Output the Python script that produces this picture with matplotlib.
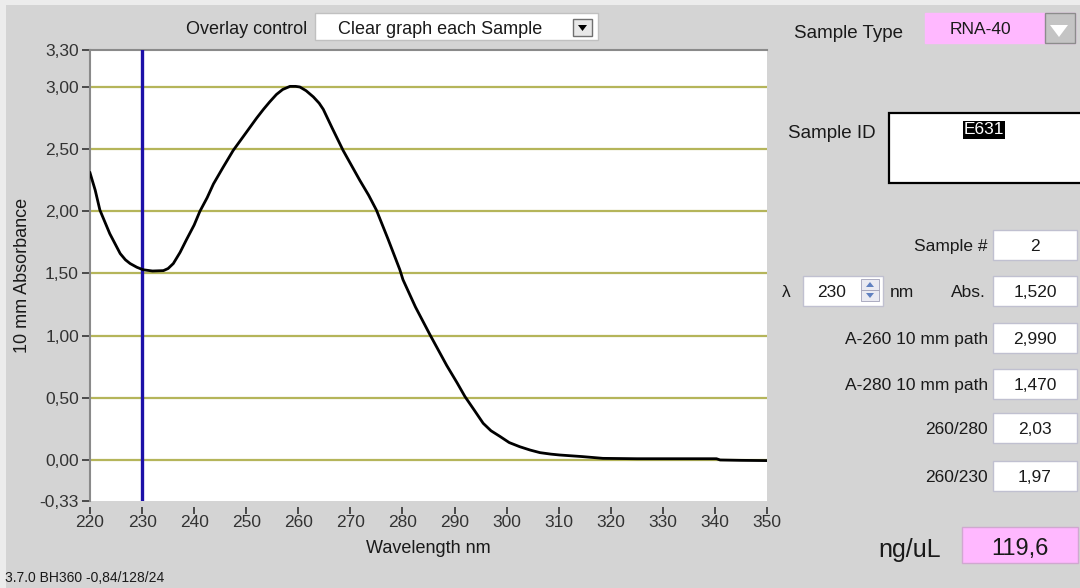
import matplotlib
matplotlib.use("Agg")
import matplotlib.pyplot as plt
from matplotlib.patches import Rectangle, Polygon

# spectrum (wavelength nm, 10 mm absorbance)
wavelength = [220, 221, 221.9, 222.8, 223.8, 224.8, 225.8, 226.8, 227.7, 229, 230.2, 232, 234.1,
              235, 236, 237.3, 238.5, 240, 241.1, 242.5, 243.7, 245.5, 247.5, 250.1, 252,
              253.3, 254.5, 255.8, 257, 258.4, 259.5, 260.3, 261.5, 262.9, 264, 264.8, 266.5,
              268.6, 270.2, 271.8, 273.5, 275, 277.2, 279.5, 280.1, 282.5, 285.3, 288.5,
              290.5, 292, 293.8, 295.5, 297, 298.7, 300.5, 302.5, 304.5, 306.4, 308.5, 310.2,
              314.6, 318.5, 325, 333, 340.3, 341, 345, 350]
absorbance = [2.31, 2.17, 2.01, 1.92, 1.82, 1.74, 1.66, 1.61, 1.58, 1.55, 1.53, 1.52, 1.523,
              1.54, 1.58, 1.67, 1.77, 1.89, 2.00, 2.11, 2.22, 2.35, 2.49, 2.64, 2.75,
              2.82, 2.88, 2.94, 2.98, 3.005, 3.005, 3.0, 2.97, 2.92, 2.87, 2.82, 2.67,
              2.49, 2.37, 2.25, 2.13, 2.01, 1.78, 1.53, 1.45, 1.23, 1.006, 0.76,
              0.62, 0.51, 0.40, 0.295, 0.235, 0.19, 0.14, 0.107, 0.08, 0.059, 0.047, 0.04,
              0.027, 0.013, 0.01, 0.01, 0.01, 0.0, -0.003, -0.005]

cursor_nm = 230
y_ticks = [-0.33, 0.0, 0.5, 1.0, 1.5, 2.0, 2.5, 3.0, 3.3]
grid_levels = [0.0, 0.5, 1.0, 1.5, 2.0, 2.5, 3.0]
x_ticks = list(range(220, 351, 10))

readout_labels = ["Sample #", "Abs.", "A-260 10 mm path", "A-280 10 mm path", "260/280", "260/230"]
readout_values = ["2", "1,520", "2,990", "1,470", "2,03", "1,97"]
readout_tops = [230, 276, 323, 369, 413, 461]

W, H = 1080, 588
BG = "#d4d4d4"
PINK = "#ffb8ff"
FONT = "Liberation Sans"
plt.rcParams["font.family"] = [FONT, "DejaVu Sans"]


def box(fig, x, y, w, h, fc="white", ec="#b8b8c8", lw=1.0):
    fig.add_artist(Rectangle((x / W, 1 - (y + h) / H), w / W, h / H,
                             transform=fig.transFigure, fc=fc, ec=ec, lw=lw))


def txt(fig, x, y, s, size=12.5, ha="left", va="center_baseline", **kw):
    fig.text(x / W, 1 - y / H, s, fontsize=size, ha=ha, va=va, color="#1a1a1a", **kw)


fig = plt.figure(figsize=(W / 100, H / 100), dpi=100, facecolor=BG)
box(fig, 0, 0, W, 5, fc="#ececec", ec="none")
box(fig, 0, 0, 6, H, fc="#ececec", ec="none")

ax = fig.add_axes([90 / W, 1 - 501 / H, (767 - 90) / W, (501 - 49.7) / H])
ax.set_facecolor("white")

for lvl in grid_levels:
    ax.axhline(lvl, color="#b5b55a", lw=1.6, zorder=1)
ax.axvline(cursor_nm, color="#1c10a8", lw=2.4, zorder=3)
ax.plot(wavelength, absorbance, color="black", lw=2.0, zorder=4)

ax.set_xlim(220, 350)
ax.set_ylim(-0.33, 3.30)
ax.set_xticks(x_ticks)
ax.set_xticklabels([str(t) for t in x_ticks])
ax.set_yticks(y_ticks)
ax.set_yticklabels([f"{t:.2f}".replace(".", ",") for t in y_ticks])
ax.tick_params(axis="both", labelsize=12.5, colors="#333333", length=6, width=1.2)
ax.tick_params(axis="y", pad=2)
ax.tick_params(axis="x", pad=1, length=5)
ax.spines["right"].set_visible(False)
ax.spines["bottom"].set_position(("outward", 4))
ax.spines["bottom"].set_visible(False)
for side in ["left", "top"]:
    ax.spines[side].set_color("#8a8a8a")
    ax.spines[side].set_linewidth(1.5)
ax.set_xlabel("Wavelength nm", fontsize=13, color="#1a1a1a", labelpad=7)
ax.set_ylabel("10 mm Absorbance", fontsize=13, color="#1a1a1a", labelpad=6)

# overlay control
txt(fig, 307, 27, "Overlay control", size=13, ha="right")
box(fig, 315, 13, 283, 27, ec="#c0c0c0")
txt(fig, 338, 27, "Clear graph each Sample", size=13)
box(fig, 573, 19, 19, 17, fc="#e8e8e8", ec="#707070")
fig.add_artist(Polygon([(578 / W, 1 - 25 / H), (587 / W, 1 - 25 / H), (582.5 / W, 1 - 31 / H)],
                       closed=True, transform=fig.transFigure, fc="black", ec="none"))

# sample type
txt(fig, 794, 32, "Sample Type", size=13.5)
box(fig, 925, 13, 150, 30, fc=PINK, ec=PINK)
txt(fig, 980, 28, "RNA-40", size=12.5, ha="center")
box(fig, 1045, 13, 30, 30, fc="#c4c4c4", ec="#8c8c8c")
fig.add_artist(Polygon([(1050 / W, 1 - 25 / H), (1068 / W, 1 - 25 / H), (1059 / W, 1 - 37 / H)],
                       closed=True, transform=fig.transFigure, fc="white", ec="none"))

# sample id
txt(fig, 788, 132, "Sample ID", size=13.5)
box(fig, 889, 113, 200, 70, ec="black", lw=1.6)
fig.text(984 / W, 1 - 130 / H, "E631", fontsize=12.5, ha="center", va="center", color="white",
         bbox=dict(fc="black", ec="none", pad=0.8))

# readouts
for label, value, top in zip(readout_labels, readout_values, readout_tops):
    box(fig, 993, top, 84, 30, ec="#c0c0d0")
    txt(fig, 1035, top + 15, value, ha="center")
    txt(fig, 988 if label != "Abs." else 986, top + 15, label, ha="right")

# wavelength cursor box
txt(fig, 782, 291, "λ")
box(fig, 803, 276, 80, 30, ec="#c0c0d0")
txt(fig, 832, 291, str(cursor_nm), ha="center")
box(fig, 861, 279, 18, 11, fc="#eaeaf2", ec="#a0a0b8", lw=0.6)
box(fig, 861, 290, 18, 11, fc="#eaeaf2", ec="#a0a0b8", lw=0.6)
fig.add_artist(Polygon([(866 / W, 1 - 287 / H), (874 / W, 1 - 287 / H), (870 / W, 1 - 282 / H)],
                       closed=True, transform=fig.transFigure, fc="#6080c0", ec="none"))
fig.add_artist(Polygon([(866 / W, 1 - 293 / H), (874 / W, 1 - 293 / H), (870 / W, 1 - 298 / H)],
                       closed=True, transform=fig.transFigure, fc="#6080c0", ec="none"))
txt(fig, 890, 291, "nm")

# concentration
txt(fig, 941, 547, "ng/uL", size=18, ha="right")
box(fig, 962, 527, 116, 36, fc=PINK, ec="#d0a8d0")
txt(fig, 1020, 546, "119,6", size=17, ha="center")

txt(fig, 5, 576, "3.7.0 BH360 -0,84/128/24", size=10)

fig.savefig("out.png", dpi=100, facecolor=BG)
